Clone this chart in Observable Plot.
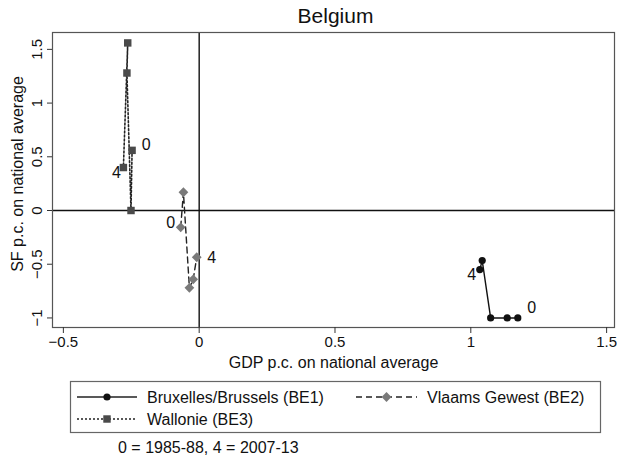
<!DOCTYPE html>
<html>
<head>
<meta charset="utf-8">
<script src="https://cdn.jsdelivr.net/npm/d3@7"></script>
<script src="https://cdn.jsdelivr.net/npm/@observablehq/plot@0.6"></script>
<style>
  html, body { margin: 0; padding: 0; background: #fff; }
  #wrap { position: relative; width: 617px; height: 457px; overflow: hidden; background: #fff;
          font-family: "Liberation Sans", Arial, Helvetica, sans-serif; color: #111; }
  #title { position: absolute; left: 0; top: 3px; width: 671px; text-align: center; font-size: 21px; line-height: 25px; }
  #chart { position: absolute; left: 0; top: 31px; }
  #legend { position: absolute; left: 0; top: 370px; }
  #caption { position: absolute; left: 118px; top: 439px; font-size: 16px; line-height: 18px; white-space: nowrap; }
</style>
</head>
<body>
<div id="wrap">
  <div id="title">Belgium</div>
  <div id="chart"></div>
  <div id="legend"></div>
  <div id="caption">0 = 1985-88, 4 = 2007-13</div>
</div>
<script>
// ---- data ----
const periods = [0, 1, 2, 3, 4];
const seriesNames = ["Bruxelles/Brussels (BE1)", "Vlaams Gewest (BE2)", "Wallonie (BE3)"];
const bruxX = [1.173, 1.134, 1.073, 1.042, 1.033];
const bruxY = [-1.00, -1.00, -1.00, -0.466, -0.55];
const vlaX  = [-0.068, -0.058, -0.036, -0.022, -0.009];
const vlaY  = [-0.156, 0.17, -0.72, -0.64, -0.435];
const walX  = [-0.247, -0.251, -0.266, -0.263, -0.279];
const walY  = [0.56, 0.00, 1.28, 1.56, 0.40];
const xTicks = [-0.5, 0, 0.5, 1, 1.5];
const yTicks = [-1, -0.5, 0, 0.5, 1, 1.5];
const xLabel = "GDP p.c. on national average";
const yLabel = "SF p.c. on national average";

const fmt = d => d < 0 ? "\u2212" + Math.abs(d) : String(d);
const mk = (xs, ys, name) => periods.map((p, i) => ({period: p, x: xs[i], y: ys[i], series: name}));
const brux = mk(bruxX, bruxY, seriesNames[0]);
const vla  = mk(vlaX, vlaY, seriesNames[1]);
const wal  = mk(walX, walY, seriesNames[2]);

// custom symbols
const symSquare = {draw(ctx, size) { const s = Math.sqrt(size) / 2; ctx.moveTo(-s, -s); ctx.lineTo(s, -s); ctx.lineTo(s, s); ctx.lineTo(-s, s); ctx.closePath(); }};
const symDiamond = {draw(ctx, size) { const s = Math.sqrt(size / 2); ctx.moveTo(0, -s); ctx.lineTo(s, 0); ctx.lineTo(0, s); ctx.lineTo(-s, 0); ctx.closePath(); }};

const endLabels = (data, i, opts) => Plot.text([data[i]], {x: "x", y: "y", text: d => String(d.period), fontSize: 16, fill: "#111", ...opts});

const chart = Plot.plot({
  width: 617,
  height: 341,
  marginLeft: 52,
  marginRight: 3,
  marginTop: 1,
  marginBottom: 45,
  x: {domain: [-0.54, 1.529]},
  y: {domain: [-1.089, 1.657]},
  style: {fontFamily: "'Liberation Sans', Arial, Helvetica, sans-serif", fontSize: "15px", color: "#111", background: "transparent"},
  marks: [
    Plot.ruleX([0], {stroke: "#111", strokeWidth: 1.4}),
    Plot.ruleY([0], {stroke: "#111", strokeWidth: 1.4}),
    Plot.frame({stroke: "#555", strokeWidth: 1.2}),
    Plot.axisX(xTicks, {tickSize: 6, tickPadding: 3, tickFormat: fmt, label: null, stroke: "#333", fontSize: 15}),
    Plot.axisY(yTicks, {tickSize: 5, tickFormat: () => "", label: null, stroke: "#333"}),
    Plot.text(yTicks, {y: d => d, text: fmt, frameAnchor: "left", dx: -15, rotate: -90, textAnchor: "middle", lineAnchor: "middle", fontSize: 15, fill: "#111"}),
    Plot.text([xLabel], {text: d => d, frameAnchor: "bottom", dy: 35, lineAnchor: "middle", fontSize: 16, fill: "#111"}),
    Plot.text([yLabel], {text: d => d, frameAnchor: "left", dx: -35, dy: -6, rotate: -90, textAnchor: "middle", lineAnchor: "middle", fontSize: 16, fill: "#111"}),
    // lines
    Plot.line(brux, {x: "x", y: "y", stroke: "#111", strokeWidth: 1.4}),
    Plot.line(vla, {x: "x", y: "y", stroke: "#222", strokeWidth: 1.4, strokeDasharray: "6,4"}),
    Plot.line(wal, {x: "x", y: "y", stroke: "#222", strokeWidth: 1.6, strokeDasharray: "2,2"}),
    // markers
    Plot.dot(brux, {x: "x", y: "y", r: 3.6, fill: "#111", stroke: "none", symbol: "circle"}),
    Plot.dot(vla, {x: "x", y: "y", r: 3.9, fill: "#7a7a7a", stroke: "none", symbol: symDiamond}),
    Plot.dot(wal, {x: "x", y: "y", r: 4.2, fill: "#4a4a4a", stroke: "none", symbol: symSquare}),
    // period labels
    endLabels(wal, 0, {dx: 14, dy: -5}),
    endLabels(wal, 4, {dx: -7, dy: 5}),
    endLabels(vla, 0, {dx: -10, dy: -4}),
    endLabels(vla, 4, {dx: 15, dy: 1}),
    endLabels(brux, 0, {dx: 14, dy: -10}),
    endLabels(brux, 4, {dx: -8, dy: 5})
  ]
});
document.getElementById("chart").appendChild(chart);

// ---- legend ----
const lg = d3.select("#legend").append("svg").attr("width", 617).attr("height", 70)
  .style("font-family", "'Liberation Sans', Arial, Helvetica, sans-serif").style("font-size", "16px");
lg.append("rect").attr("x", 70.5).attr("y", 11.5).attr("width", 530).attr("height", 51)
  .attr("fill", "white").attr("stroke", "#666").attr("stroke-width", 1.2);
const items = [
  {name: seriesNames[0], x0: 77, x1: 137, y: 27, dash: null, fill: "#111", sym: d3.symbolCircle, size: Math.PI * 3.6 * 3.6, custom: null},
  {name: seriesNames[1], x0: 356, x1: 417, y: 27, dash: "6,4", fill: "#7a7a7a", sym: null, custom: symDiamond, size: Math.PI * 3.9 * 3.9},
  {name: seriesNames[2], x0: 77, x1: 137, y: 49, dash: "2,2", fill: "#4a4a4a", sym: null, custom: symSquare, size: Math.PI * 4.2 * 4.2}
];
for (const it of items) {
  lg.append("line").attr("x1", it.x0).attr("x2", it.x1).attr("y1", it.y).attr("y2", it.y)
    .attr("stroke", "#222").attr("stroke-width", 1.4).attr("stroke-dasharray", it.dash);
  const s = d3.symbol().type(it.custom || it.sym).size(it.size);
  lg.append("path").attr("d", s()).attr("transform", `translate(${(it.x0 + it.x1) / 2},${it.y})`).attr("fill", it.fill);
  lg.append("text").attr("x", it.x1 + 10).attr("y", it.y).attr("dy", "0.35em").attr("fill", "#111").text(it.name);
}
</script>
</body>
</html>
